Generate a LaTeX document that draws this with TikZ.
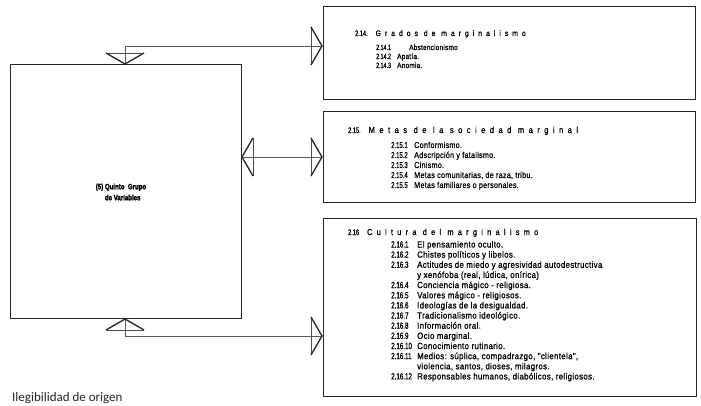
\documentclass[tikz,border=0pt]{standalone}
\usepackage{fontspec}
\setmainfont{Liberation Sans}
\newfontfamily\condn[FakeStretch=0.7,FakeBold=0.9]{Liberation Sans}
\newfontfamily\condi[FakeStretch=0.85,LetterSpace=3,FakeBold=0.7]{Liberation Sans}
\newfontfamily\condii[FakeStretch=0.88,LetterSpace=4,FakeBold=1.0]{Liberation Sans}
\newfontfamily\condsp[FakeStretch=0.85,LetterSpace=50,FakeBold=0.8]{Liberation Sans}
\newfontfamily\condb[FakeStretch=0.78,FakeBold=2]{Liberation Sans}
\newfontfamily\cali{Carlito}
\newcommand{\nm}[1]{{\condn #1}}
\newcommand{\myhead}[2]{%
  \begin{scope}[shift={(#1)}, rotate=#2]
    \draw[thin, black!70] (-11,-19) -- (-11,19);
    \draw[line width=1.3pt, black!85] (-11,-19) -- (0,0) -- (-11,19);
  \end{scope}}
\begin{document}
\begin{tikzpicture}[x=1pt,y=-1pt,
  frame/.style={draw=black!85, line width=0.9pt, inner sep=0pt, outer sep=0pt, anchor=north west},
  conn/.style={draw=black!65, line width=0.6pt},
  hd/.style={inner sep=0pt, anchor=base west, font=\condn\fontsize{8}{9}\selectfont},
  lst/.style={inner sep=0pt, anchor=base west, align=left}]
\useasboundingbox (0,0) rectangle (701,406);
\fill[white] (0,0) rectangle (701,406);

% boxes
\node[frame, minimum width=231pt, minimum height=254pt] (big) at (10,64) {};
\node[inner sep=0pt, align=center, font=\condb\bfseries\fontsize{7.8}{11}\selectfont] (bigtxt) at (121,192) {(5) Quinto\ \ Grupo\\ \ \ de Variables};
\node[frame, minimum width=372pt, minimum height=93pt] (b1) at (323,6) {};
\node[frame, minimum width=372pt, minimum height=91pt] (b2) at (323,111) {};
\node[frame, minimum width=373pt, minimum height=178pt] (b3) at (323,218) {};

% box texts
\node[hd] (h1) at (355,36) {2.14.\hspace{8pt}{\condsp\fontsize{8}{9}\selectfont Grados de marginalismo}};
\node[lst, font=\condi\fontsize{7.6}{9}\selectfont] (l1) at (376,50) {\begin{tabular}[t]{@{}p{21pt}@{}l@{}}
\nm{2.14.1} & \hspace{12pt}Abstencionismo\\
\nm{2.14.2} & Apatía.\\
\nm{2.14.3} & Anomia.
\end{tabular}};

\node[hd] (h2) at (348,133) {2.15.\hspace{8pt}{\condsp\fontsize{8.9}{9}\selectfont Metas de la sociedad marginal}};
\node[lst, font=\condi\fontsize{8.5}{10}\selectfont] (l2) at (391,148) {\begin{tabular}[t]{@{}p{23pt}@{}l@{}}
\nm{2.15.1} & Conformismo.\\
\nm{2.15.2} & Adscripción y fatalismo.\\
\nm{2.15.3} & Cinismo.\\
\nm{2.15.4} & Metas comunitarias, de raza, tribu.\\
\nm{2.15.5} & Metas familiares o personales.
\end{tabular}};

\node[hd] (h3) at (348,235) {2.16\hspace{8pt}{\condsp\fontsize{8.6}{9}\selectfont Cultura del marginalismo}};
\node[lst, font=\condii\fontsize{8.9}{10.15}\selectfont] (l3) at (391,247.5) {\begin{tabular}[t]{@{}p{26pt}@{}l@{}}
\nm{2.16.1} & El pensamiento oculto.\\
\nm{2.16.2} & Chistes políticos y libelos.\\
\nm{2.16.3} & Actitudes de miedo y agresividad autodestructiva\\
 & y xenófoba (real, lúdica, onírica)\\
\nm{2.16.4} & Conciencia mágico - religiosa.\\
\nm{2.16.5} & Valores mágico - religiosos.\\
\nm{2.16.6} & Ideologías de la desigualdad.\\
\nm{2.16.7} & Tradicionalismo ideológico.\\
\nm{2.16.8} & Información oral.\\
\nm{2.16.9} & Ocio marginal.\\
\nm{2.16.10} & Conocimiento rutinario.\\
\nm{2.16.11} & Medios: súplica, compadrazgo, "clientela",\\
 & violencia, santos, dioses, milagros.\\
\nm{2.16.12} & Responsables humanos, diabólicos, religiosos.
\end{tabular}};

% connectors
\coordinate (c1a) at (125,64);
\coordinate (c1b) at (125,46);
\coordinate (c1c) at (322,46);
\coordinate (c2a) at (242,157);
\coordinate (c2b) at (322,157);
\coordinate (c3a) at (125,319);
\coordinate (c3b) at (125,336);
\coordinate (c3c) at (322,336);
\draw[conn] (c1a) -- (c1b) -- (c1c);
\draw[conn] (c2a) -- (c2b);
\draw[conn] (c3a) -- (c3b) -- (c3c);
\myhead{c1a}{-90}
\myhead{c1c}{0}
\myhead{c2a}{180}
\myhead{c2b}{0}
\myhead{c3a}{90}
\myhead{c3c}{0}

\node[inner sep=0pt, anchor=base west, font=\cali\fontsize{13}{15}\selectfont, text=black!85] (note) at (12,401) {Ilegibilidad de origen};
\end{tikzpicture}
\end{document}
